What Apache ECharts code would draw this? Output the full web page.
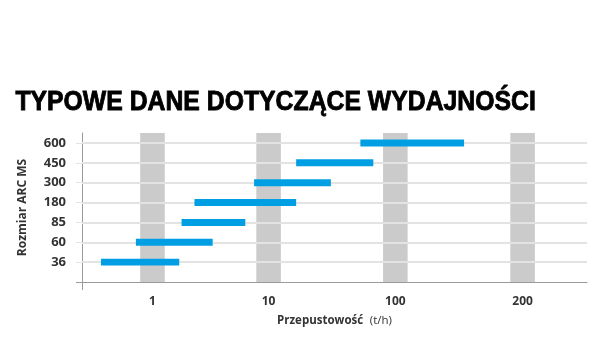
<!DOCTYPE html>
<html>
<head>
<meta charset="utf-8">
<script src="https://cdn.jsdelivr.net/npm/echarts@6/dist/echarts.min.js"></script>
<style>html,body{margin:0;padding:0;background:#fff}#c{width:600px;height:360px}</style>
</head>
<body>
<div id="c"></div>
<script>
// Data (ranges, in t/h)
const sizes = ['36', '60', '85', '180', '300', '450', '600'];
const minTph = [0.36, 0.72, 1.78, 2.3, 7.5, 16.5, 53];
const maxTph = [1.7, 3.3, 6.3, 16.5, 31, 67, 154];
const tickValues = [1, 10, 100, 200];
const tickLabels = ['1', '10', '100', '200'];
const titleText = 'TYPOWE DANE DOTYCZĄCE WYDAJNOŚCI';

// Schematic x scale: slot positions of the ticks
const tickSlots = [0, 0.916, 1.916, 2.92];
const X_MIN = -0.556, X_MAX = 3.428;
function pos(v) {
  if (v <= 10) return Math.log10(v) * tickSlots[1];
  if (v <= 100) return tickSlots[1] + Math.log10(v / 10) * (tickSlots[2] - tickSlots[1]);
  return tickSlots[2] + (v - 100) / 100 * (tickSlots[3] - tickSlots[2]);
}

const AXIS = '#9a9a9a', GRID = '#e3e3e3', BAND = '#cbcbcb', BLUE = '#009FE3';
const bandHalf = 0.097;
const F = '"Open Sans", sans-serif';

const chart = echarts.init(document.getElementById('c'), null, {renderer: 'canvas'});
chart.setOption({
  animation: false,
  graphic: [{
    type: 'text', left: 15, top: 88, scaleX: 0.885, silent: true,
    style: {
      text: titleText,
      font: 'bold 28px "Liberation Sans", Arial, sans-serif',
      fill: '#000', stroke: '#000', lineWidth: 0.9
    }
  }],
  grid: {left: 82, right: 13, top: 133, bottom: 78, containLabel: false},
  xAxis: {
    type: 'value', min: X_MIN, max: X_MAX,
    axisLine: {show: true, onZero: false, lineStyle: {color: AXIS, width: 1}},
    axisTick: {show: true, customValues: [X_MIN], length: 8, lineStyle: {color: AXIS}},
    splitLine: {show: false},
    axisLabel: {
      customValues: tickSlots, margin: 14,
      fontFamily: F, fontWeight: 'bold', fontSize: 12, color: '#333',
      formatter: function (v) {
        for (let i = 0; i < tickSlots.length; i++) if (Math.abs(tickSlots[i] - v) < 1e-6) return tickLabels[i];
        return '';
      }
    },
    name: '{b|Przepustowość}  {n|(t/h)}',
    nameLocation: 'middle', nameGap: 33,
    nameTextStyle: {rich: {
      b: {fontFamily: F, fontWeight: 'bold', fontSize: 11.5, color: '#333'},
      n: {fontFamily: F, fontWeight: 'normal', fontSize: 11.5, color: '#333'}
    }}
  },
  yAxis: [{
    type: 'value', min: 0, max: 7.5, position: 'left',
    axisLine: {show: true, onZero: false, lineStyle: {color: AXIS, width: 1}},
    axisTick: {show: true, customValues: [0], length: 6, lineStyle: {color: AXIS}},
    splitLine: {show: false},
    axisLabel: {
      customValues: [1, 2, 3, 4, 5, 6, 7], margin: 16,
      fontFamily: F, fontWeight: 'bold', fontSize: 13, color: '#333',
      formatter: function (v) { return sizes[Math.round(v) - 1] || ''; }
    },
    name: 'Rozmiar ARC MS', nameLocation: 'middle', nameGap: 53, nameRotate: 90,
    nameTextStyle: {fontFamily: F, fontWeight: 'bold', fontSize: 12, color: '#333'}
  }, {
    type: 'value', min: 0, max: 7.5, position: 'left', offset: 0,
    axisLine: {show: false, onZero: false},
    axisTick: {show: true, customValues: [1, 2, 3, 4, 5, 6, 7], length: 6, lineStyle: {color: GRID}},
    axisLabel: {show: false},
    splitLine: {show: false}
  }],
  series: [{
    type: 'line', data: [], z: 1, silent: true,
    markLine: {
      silent: true, symbol: 'none', label: {show: false},
      lineStyle: {color: GRID, width: 2, type: 'solid'},
      data: sizes.map(function (s, i) { return {yAxis: i + 1}; })
    }
  }, {
    type: 'line', data: [], z: 2, silent: true,
    markArea: {
      silent: true,
      itemStyle: {color: BAND},
      data: tickValues.map(function (t, i) {
        return [{xAxis: tickSlots[i] - bandHalf}, {xAxis: tickSlots[i] + bandHalf}];
      })
    }
  }, {
    type: 'custom', z: 5,
    encode: {x: [1, 2], y: 0},
    data: sizes.map(function (s, i) { return [i + 1, pos(minTph[i]), pos(maxTph[i])]; }),
    renderItem: function (params, api) {
      const y = api.value(0);
      const s = api.coord([api.value(1), y]);
      const e = api.coord([api.value(2), y]);
      const h = api.size([0, 1])[1] * 0.35;
      return {type: 'rect', shape: {x: s[0], y: s[1] - h / 2, width: e[0] - s[0], height: h}, style: {fill: BLUE}};
    }
  }]
});
</script>
</body>
</html>
